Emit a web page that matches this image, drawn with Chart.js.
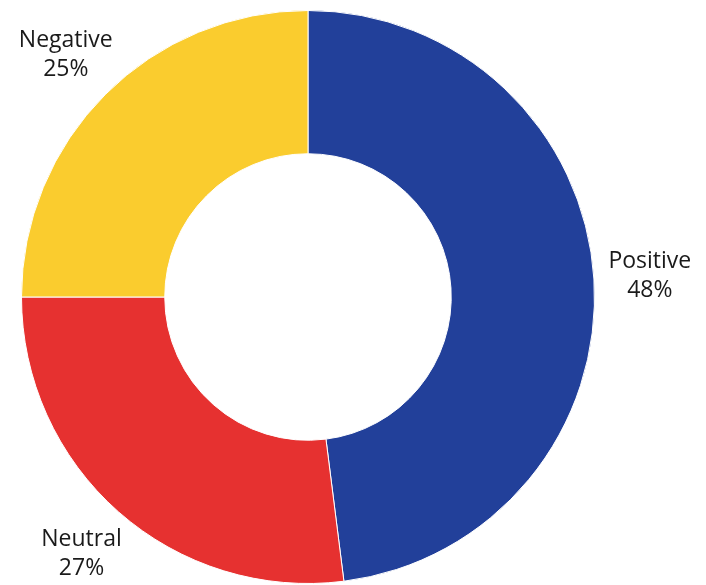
<!DOCTYPE html>
<html>
<head>
<meta charset="utf-8">
<script src="https://cdn.jsdelivr.net/npm/chart.js@4/dist/chart.umd.min.js"></script>
<style>
  html, body { margin: 0; padding: 0; background: #fff; }
  #wrap { width: 706px; height: 585px; }
</style>
</head>
<body>
<div id="wrap"><canvas id="chart"></canvas></div>
<script>
// data
const categories = ['Positive', 'Neutral', 'Negative'];
const shares = [48, 27, 25];
const sliceColors = ['#22409A', '#E63130', '#FACC2E'];

// draws the "Name / NN%" text outside each slice
const outsideLabels = {
  id: 'outsideLabels',
  afterDatasetsDraw(chart) {
    const ctx = chart.ctx;
    const meta = chart.getDatasetMeta(0);
    ctx.save();
    ctx.fillStyle = '#1a1a1a';
    ctx.font = '23px "Open Sans", sans-serif';
    ctx.textAlign = 'center';
    ctx.textBaseline = 'middle';
    meta.data.forEach((arc, i) => {
      const mid = (arc.startAngle + arc.endAngle) / 2;
      const r = arc.outerRadius + 56;
      const x = arc.x + Math.cos(mid) * r;
      const y = arc.y + Math.sin(mid) * r;
      ctx.fillText(categories[i], x, y - 14);
      ctx.fillText(shares[i] + '%', x, y + 15);
    });
    ctx.restore();
  }
};

new Chart(document.getElementById('chart'), {
  type: 'doughnut',
  data: {
    labels: categories,
    datasets: [{
      data: shares,
      backgroundColor: sliceColors,
      borderColor: '#ffffff',
      borderWidth: 1
    }]
  },
  options: {
    responsive: true,
    maintainAspectRatio: false,
    animation: false,
    cutout: '50%',
    layout: { padding: { left: 21, right: 111, top: 10, bottom: 1 } },
    plugins: {
      legend: { display: false },
      tooltip: { enabled: false }
    }
  },
  plugins: [outsideLabels]
});
</script>
</body>
</html>
